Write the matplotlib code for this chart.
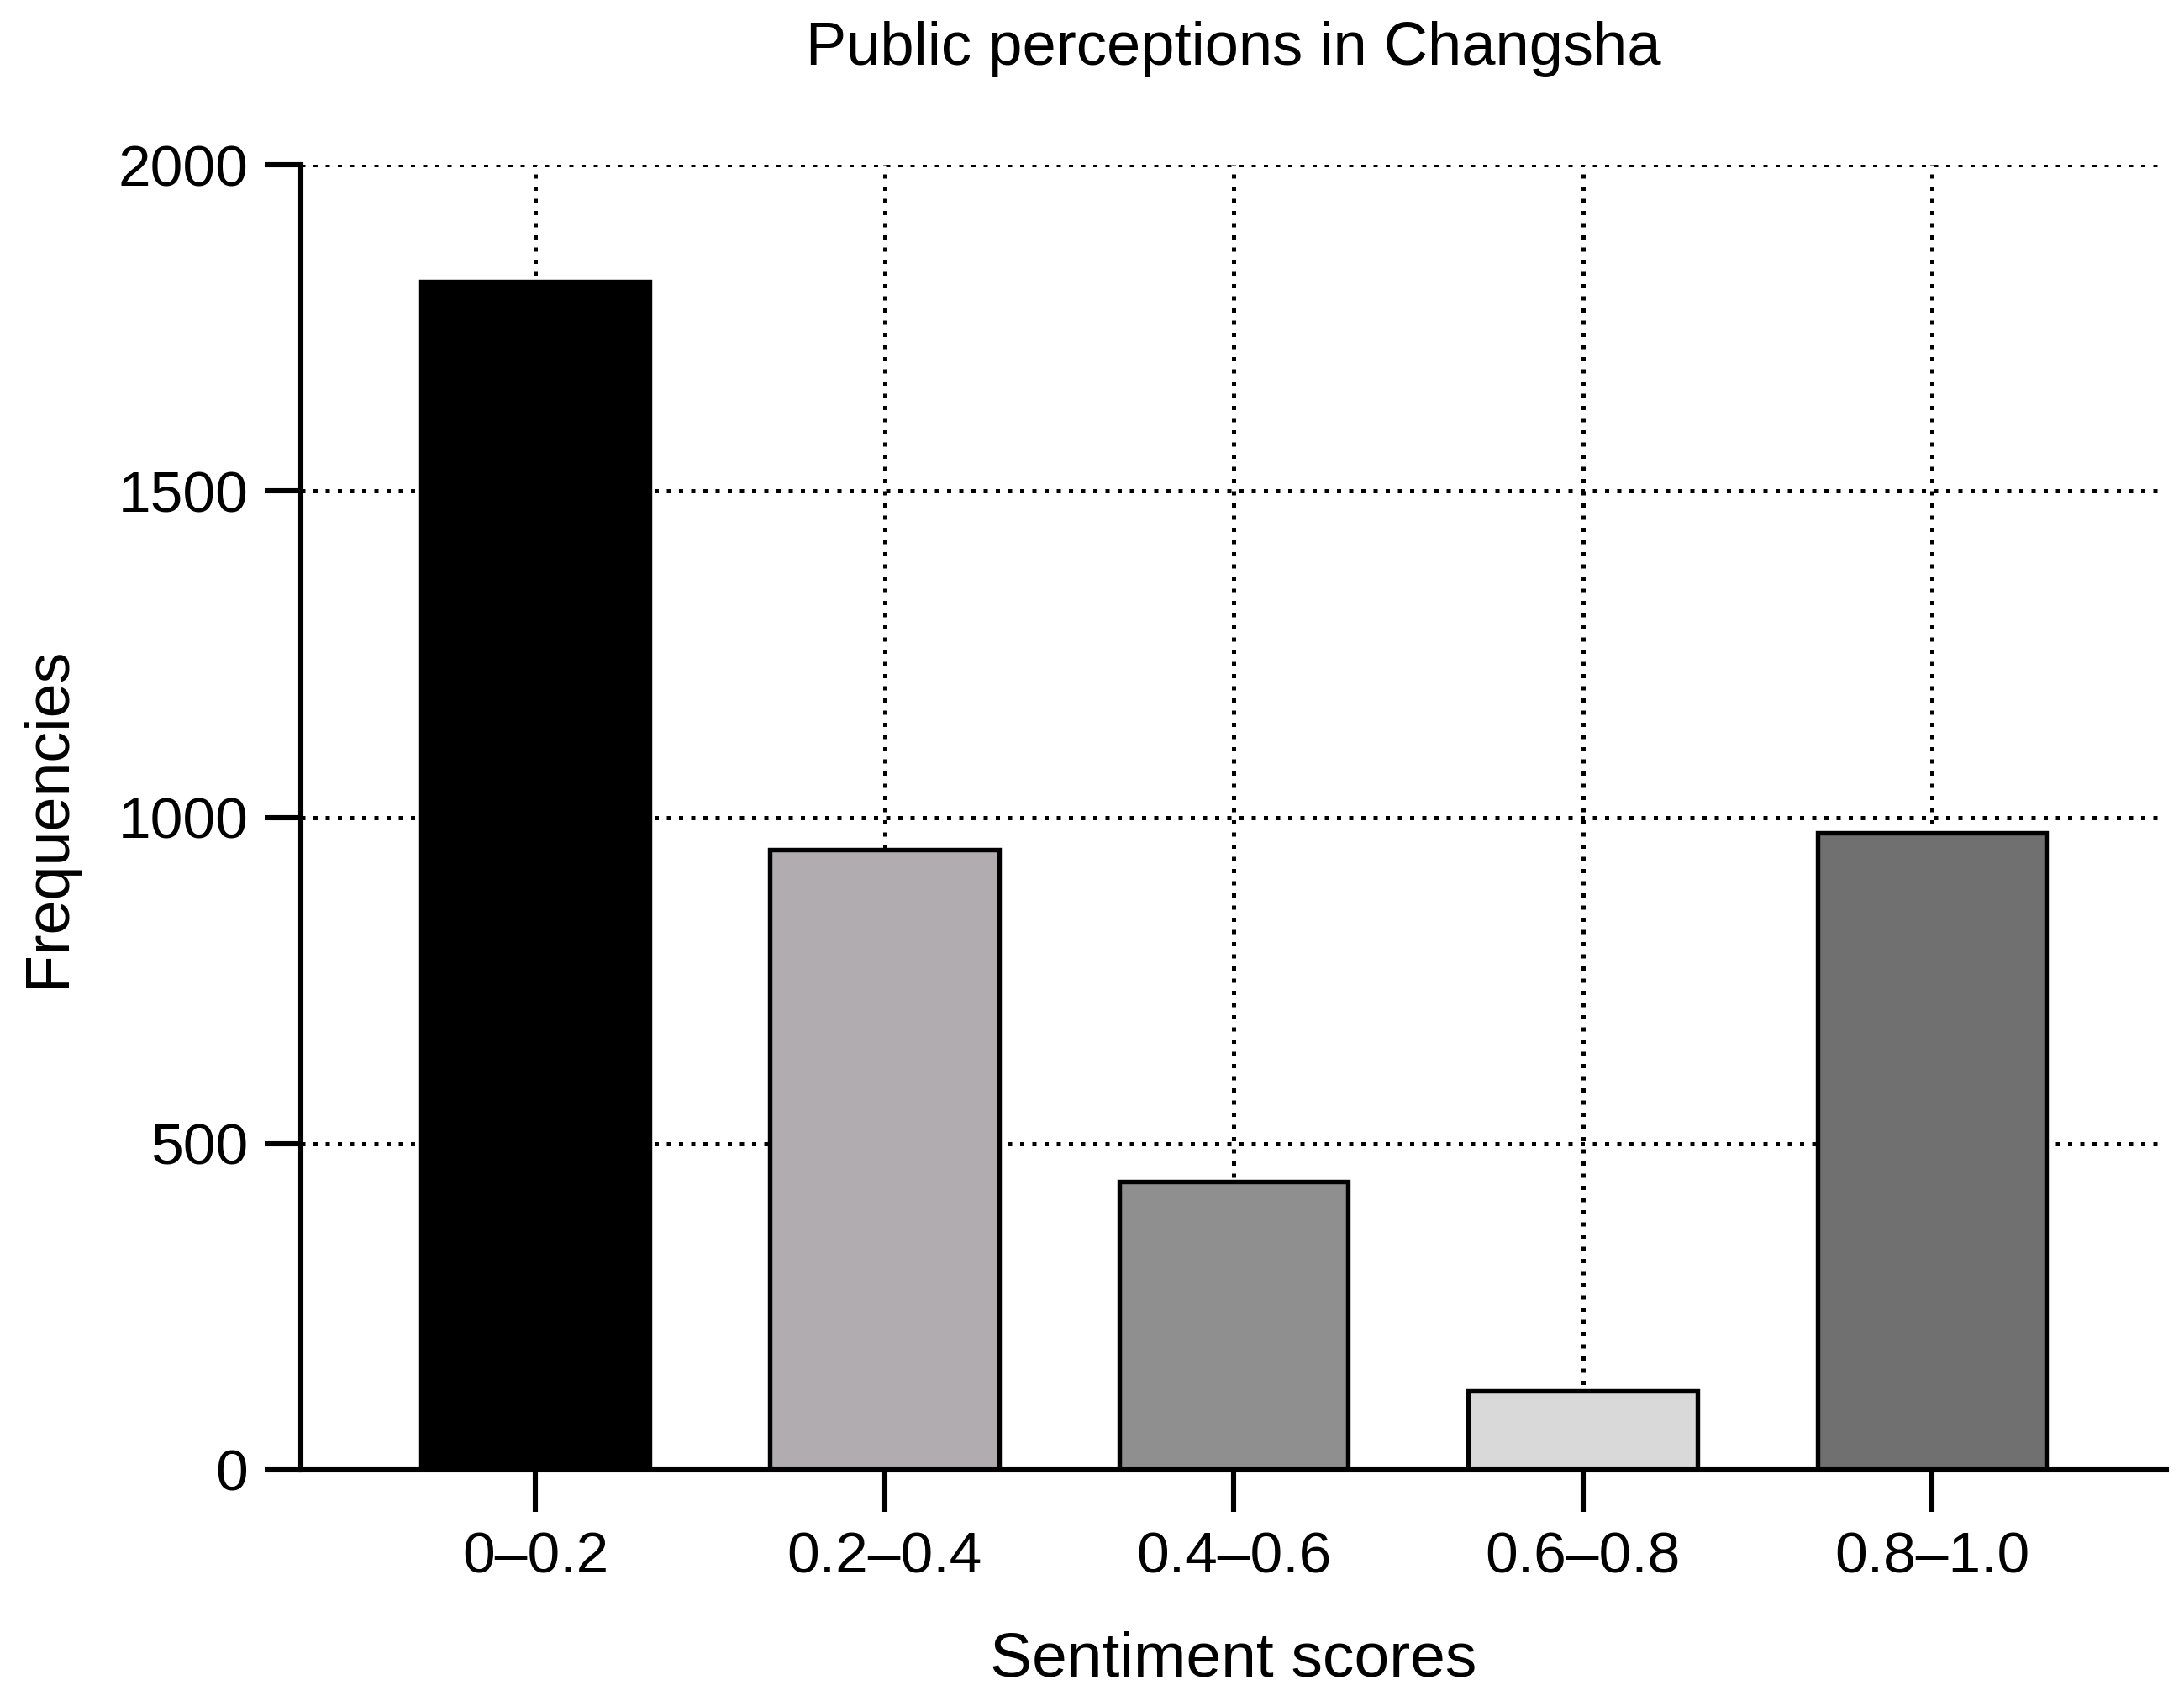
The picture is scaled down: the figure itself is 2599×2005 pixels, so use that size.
import matplotlib
matplotlib.use("Agg")
import matplotlib.pyplot as plt
from matplotlib import font_manager

names = {f.name for f in font_manager.fontManager.ttflist}
fam = "Liberation Sans Narrow" if "Liberation Sans Narrow" in names else "Liberation Sans"
plt.rcParams['font.family'] = [fam, 'DejaVu Sans']

categories = ["0\u20130.2", "0.2\u20130.4", "0.4\u20130.6", "0.6\u20130.8", "0.8\u20131.0"]
frequencies = [1821, 950, 442, 121, 976]
bar_colors = ["#000000", "#b0acb0", "#8f8f8f", "#d9d9d9", "#707070"]
yticks = [0, 500, 1000, 1500, 2000]

fig = plt.figure(figsize=(25.99, 20.05), dpi=100)
ax = fig.add_axes([0.1377, 0.1277, 0.992 - 0.1377, 0.9022 - 0.1277])

x = list(range(len(categories)))
ax.bar(x, frequencies, width=0.655, color=bar_colors, edgecolor="black",
       linewidth=3.9, zorder=3)

ax.set_xlim(-0.672, len(categories) - 1 + 0.672)
ax.set_ylim(0, 2000)
ax.set_yticks(yticks)
ax.set_xticks(x)
ax.set_xticklabels(categories)

ax.grid(True, which="major", axis="both", color="black", linestyle=(0, (1, 1.9)),
        linewidth=3.6, zorder=0)
ax.set_axisbelow(True)

for s in ["top", "right"]:
    ax.spines[s].set_visible(False)
for s in ["left", "bottom"]:
    ax.spines[s].set_linewidth(4.4)
    ax.spines[s].set_zorder(4)

ax.tick_params(axis="both", direction="out", width=4.4, labelsize=50, colors="black")
ax.tick_params(axis="y", length=31, pad=14)
ax.tick_params(axis="x", length=36, pad=16)

ax.set_xlabel("Sentiment scores", fontsize=54, labelpad=40)
ax.set_ylabel("Frequencies", fontsize=53, labelpad=35)
ax.set_title("Public perceptions in Changsha", fontsize=52, pad=86)

fig.savefig("out.png", dpi=100)
